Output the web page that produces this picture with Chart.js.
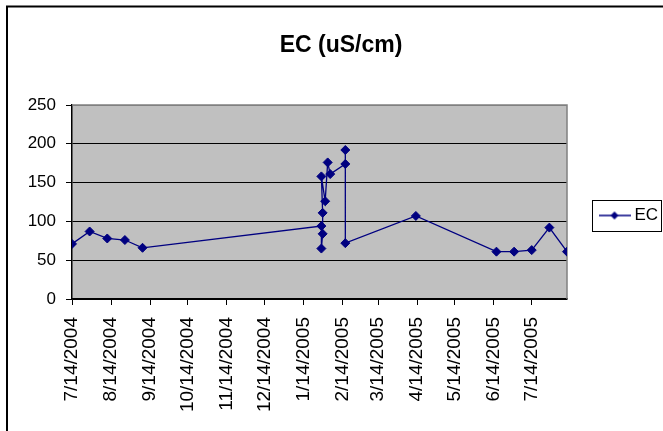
<!DOCTYPE html>
<html>
<head>
<meta charset="utf-8">
<script src="https://cdn.jsdelivr.net/npm/chart.js@4"></script>
<style>
  html, body { margin: 0; padding: 0; background: #fff; }
  #wrap { width: 663px; height: 431px; }
</style>
</head>
<body>
<div id="wrap"><canvas id="ecChart" width="663" height="431"></canvas></div>
<script>
(() => {
    "use strict";

    // sampling dates and EC readings (uS/cm), in the order they were recorded
    const sampleDates = [
        '7/14/2004', '7/28/2004', '8/11/2004', '8/25/2004', '9/8/2004',
        '1/28/2005', '1/28/2005', '1/29/2005', '1/29/2005', '1/28/2005',
        '1/31/2005', '2/2/2005', '2/4/2005', '2/16/2005', '2/16/2005', '2/16/2005',
        '4/13/2005', '6/16/2005', '6/30/2005', '7/14/2005', '7/28/2005', '8/11/2005'
    ];
    const ecValues = [
        71, 87, 78, 76, 66,
        94, 65, 84, 111, 158,
        126, 176, 161, 174, 192, 72,
        107, 61, 61, 63, 92, 61
    ];

    const xTickLabels = [
        '7/14/2004', '8/14/2004', '9/14/2004', '10/14/2004', '11/14/2004', '12/14/2004',
        '1/14/2005', '2/14/2005', '3/14/2005', '4/14/2005', '5/14/2005', '6/14/2005', '7/14/2005'
    ];
    const xMaxDate = '8/11/2005';
    const yTicks = [0, 50, 100, 150, 200, 250];

    const navy = '#000080';
    const fontFamily = '"Liberation Sans", Arial, sans-serif';

    const startMs = _toMs(xTickLabels[0]);

    function _toMs(s) {
        const p = s.split('/').map(Number);
        return Date.UTC(p[2], p[0] - 1, p[1]);
    }

    function _day(s) {
        return Math.round((_toMs(s) - startMs) / 86400000);
    }

    const tickDays = xTickLabels.map(_day);
    const points = sampleDates.map((d, i) => ({ x: _day(d), y: ecValues[i] }));

    // legend sample: line with a diamond marker
    const legendMark = document.createElement('canvas');
    legendMark.width = 32;
    legendMark.height = 10;
    (() => {
        const c = legendMark.getContext('2d');
        c.strokeStyle = navy;
        c.lineWidth = 1.5;
        c.beginPath();
        c.moveTo(0, 5);
        c.lineTo(32, 5);
        c.stroke();
        c.fillStyle = navy;
        c.beginPath();
        c.moveTo(16, 1);
        c.lineTo(20, 5);
        c.lineTo(16, 9);
        c.lineTo(12, 5);
        c.closePath();
        c.fill();
    })();

    const excelFrame = {
        id: 'excelFrame',
        beforeDraw(chart) {
            const { ctx, chartArea: a } = chart;
            ctx.save();
            ctx.fillStyle = '#c0c0c0';
            ctx.fillRect(a.left, a.top, a.right - a.left, a.bottom - a.top);
            ctx.restore();
        },
        beforeDatasetsDraw(chart) {
            const { ctx, chartArea: a } = chart;
            ctx.save();
            ctx.strokeStyle = '#808080';
            ctx.lineWidth = 1.5;
            ctx.beginPath();
            ctx.moveTo(a.left, a.top);
            ctx.lineTo(a.right, a.top);
            ctx.lineTo(a.right, a.bottom);
            ctx.stroke();
            ctx.restore();
        },
        afterDraw(chart) {
            const { ctx } = chart;
            ctx.save();
            // outer chart border (top and left)
            ctx.strokeStyle = '#000';
            ctx.lineWidth = 2;
            ctx.beginPath();
            ctx.moveTo(7, 431);
            ctx.lineTo(7, 6.5);
            ctx.lineTo(663, 6.5);
            ctx.stroke();
            // legend box
            const hb = chart.legend.legendHitBoxes[0];
            if (hb) {
                const cy = hb.top + hb.height / 2;
                ctx.lineWidth = 1;
                ctx.strokeRect(592.5, Math.round(cy - 15.5) + 0.5, 69, 31);
            }
            ctx.restore();
        }
    };

    new Chart(document.getElementById('ecChart'), {
        type: 'line',
        data: {
            datasets: [{
                label: 'EC',
                data: points,
                borderColor: navy,
                backgroundColor: navy,
                borderWidth: 1.3,
                pointStyle: 'rectRot',
                pointRadius: 4.5,
                pointHoverRadius: 4.5,
                pointBackgroundColor: navy,
                pointBorderColor: navy,
                pointBorderWidth: 1,
                tension: 0,
                fill: false
            }]
        },
        options: {
            responsive: false,
            animation: false,
            devicePixelRatio: 1,
            layout: {
                padding: { left: 19, right: 0, top: 0, bottom: 0 }
            },
            plugins: {
                title: {
                    display: true,
                    text: 'EC (uS/cm)',
                    color: '#000',
                    font: { family: fontFamily, size: 23, weight: 'bold' },
                    padding: { top: 32, bottom: 45.4 }
                },
                legend: {
                    display: true,
                    position: 'right',
                    maxWidth: 96,
                    labels: {
                        color: '#000',
                        font: { family: fontFamily, size: 17 },
                        usePointStyle: true,
                        pointStyleWidth: 23,
                        padding: 36,
                        generateLabels: (chart) => [{
                            text: chart.data.datasets[0].label,
                            pointStyle: legendMark,
                            fillStyle: navy,
                            strokeStyle: navy,
                            lineWidth: 0,
                            datasetIndex: 0
                        }]
                    }
                },
                tooltip: { enabled: false }
            },
            scales: {
                x: {
                    type: 'linear',
                    min: 0,
                    max: _day(xMaxDate),
                    afterBuildTicks: (scale) => {
                        scale.ticks = tickDays.map(v => ({ value: v }));
                    },
                    afterFit: (scale) => { scale.height = 132; },
                    border: { display: true, color: '#000', width: 1.5 },
                    grid: {
                        display: true,
                        drawOnChartArea: false,
                        drawTicks: true,
                        tickLength: 6,
                        tickColor: '#000',
                        tickWidth: 1
                    },
                    ticks: {
                        autoSkip: false,
                        minRotation: 90,
                        maxRotation: 90,
                        padding: 12,
                        color: '#000',
                        font: { family: fontFamily, size: 19 },
                        callback: (v) => {
                            const i = tickDays.indexOf(v);
                            return i >= 0 ? xTickLabels[i] : '';
                        }
                    }
                },
                y: {
                    min: yTicks[0],
                    max: yTicks[yTicks.length - 1],
                    afterBuildTicks: (scale) => {
                        scale.ticks = yTicks.map(v => ({ value: v }));
                    },
                    afterFit: (scale) => { scale.width = 53; },
                    border: { display: true, color: '#000', width: 1.5 },
                    grid: {
                        color: (c) => (c.tick && c.tick.value === 250 ? '#808080' : '#000'),
                        lineWidth: 1,
                        drawTicks: true,
                        tickLength: 6,
                        tickColor: '#000'
                    },
                    ticks: {
                        padding: 10,
                        color: '#000',
                        font: { family: fontFamily, size: 17 }
                    }
                }
            }
        },
        plugins: [excelFrame]
    });

})();
</script>
</body>
</html>
